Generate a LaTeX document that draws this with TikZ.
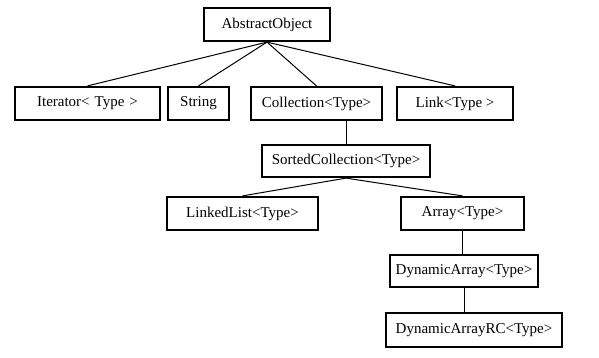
\documentclass[tikz,border=0pt]{standalone}
\usepackage{fontspec}
\setmainfont{Liberation Serif}
\begin{document}
\begin{tikzpicture}[x=1pt,y=-1pt,
  box/.style={draw=black, line width=2.2pt, inner sep=0pt, font=\fontsize{15}{17}\selectfont, text=black},
  link/.style={draw=black, line width=1pt}]
\useasboundingbox (0,0) rectangle (599,357);
\node[box, minimum width=126pt, minimum height=33pt] (ao) at (267,24.5) {AbstractObject};
\node[box, minimum width=145pt, minimum height=33pt] (it) at (87.5,103.5) {Iterator<\,\,Type\,\,>};
\node[box, minimum width=61pt, minimum height=33pt] (st) at (198.5,103.5) {String};
\node[box, minimum width=131pt, minimum height=33pt] (co) at (316.5,103.5) {Collection<Type>};
\node[box, minimum width=116pt, minimum height=33pt] (li) at (455,103.5) {Link<Type >};
\node[box, minimum width=168pt, minimum height=32pt] (sc) at (346,161) {SortedCollection<Type>};
\node[box, minimum width=151pt, minimum height=33pt] (ll) at (242.5,213.5) {LinkedList<Type>};
\node[box, minimum width=123pt, minimum height=33pt] (ar) at (462.5,213.5) {Array<Type>};
\node[box, minimum width=148pt, minimum height=32pt] (da) at (464,271) {DynamicArray<Type>};
\node[box, minimum width=176pt, minimum height=34pt] (rc) at (474,330) {DynamicArrayRC<Type>};
\draw[link] (ao.south) -- (it.north);
\draw[link] (ao.south) -- (st.north);
\draw[link] (ao.south) -- (co.north);
\draw[link] (ao.south) -- (li.north);
\draw[link] (sc.north) -- (sc.north |- co.south);
\draw[link] (sc.south) -- (ll.north);
\draw[link] (sc.south) -- (ar.north);
\draw[link] (ar.south) -- (ar.south |- da.north);
\draw[link] (da.south) -- (da.south |- rc.north);
\end{tikzpicture}
\end{document}
